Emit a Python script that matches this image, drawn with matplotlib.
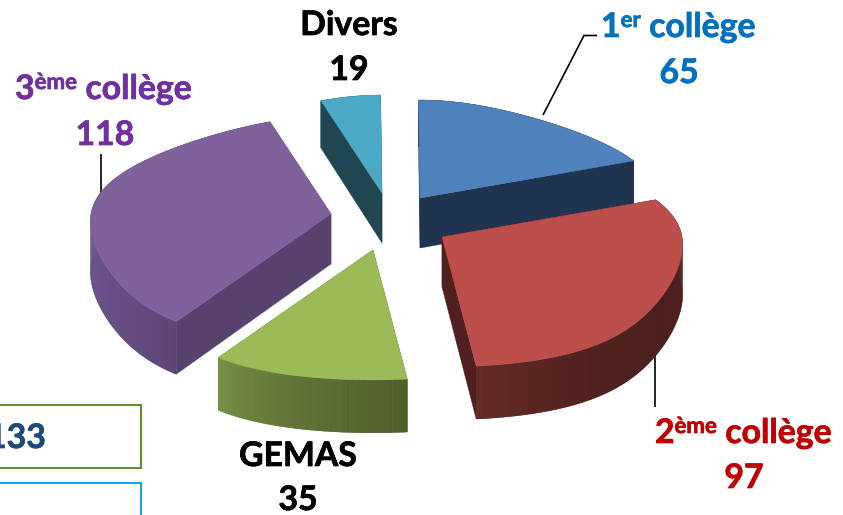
import numpy as np
import matplotlib
matplotlib.use("Agg")
import matplotlib.pyplot as plt
from matplotlib.patches import Polygon, Rectangle
from matplotlib.colors import to_rgb
import matplotlib.patheffects as pe

# data, in pie order (clockwise from the top)
categories = ["1er collège", "2ème collège", "GEMAS", "3ème collège", "Divers"]
values = [65, 97, 35, 118, 19]
box_value = "133"

# style
top_colors = ["#4F81BD", "#BC4F4C", "#9BBB59", "#7F619C", "#4BA9C5"]
wall_colors = ["#20344F", "#4F201F", "#4F5E2B", "#57426D", "#1F4651"]
arc_left_colors = ["#20344F", "#672C28", "#7C964A", "#6E5690", "#1F4651"]
arc_right_colors = ["#20344F", "#4C1F1E", "#4F5C2A", "#5C4675", "#1F4651"]
apexes = [(420, 198), (442, 237), (373, 250), (331, 214), (382, 193)]
draw_order = [0, 4, 3, 2, 1]
RX, RY, PY, DEPTH = 240.0, 111.7, 0.14, 50.0
START = -0.5


def project(t, ax_, ay_):
    s, c = np.sin(t), np.cos(t)
    k = 0.0785 * c + 0.098 * c ** 2 + 0.304 * c ** 3
    return ax_ + RX * s / (1 + k), ay_ - RY * c / (1 + PY * c)


def wall_depth(t):
    return DEPTH * (1 - 0.06 * np.cos(t))


fig = plt.figure(figsize=(8.43, 5.15), dpi=100)
ax = fig.add_axes([0, 0, 1, 1])
ax.set_xlim(0, 843)
ax.set_ylim(515, 0)
ax.axis("off")

# leader lines
lk = dict(color="black", lw=1.2, zorder=1, solid_capstyle="butt", solid_joinstyle="miter")
ax.plot([543, 584, 597], [115, 35.5, 35.5], **lk)
ax.plot([100.5, 100.5], [154, 200], **lk)
ax.plot([655, 655], [350, 407], **lk)

# slices
edges = np.radians(START + 360 * np.concatenate([[0], np.cumsum(values)]) / np.sum(values))
z = 2
for i in draw_order:
    t0, t1 = edges[i], edges[i + 1]
    a, b = apexes[i]
    ts = np.linspace(t0, t1, 90)
    xs, ys = project(ts, a, b)
    ds = wall_depth(ts)
    # radial walls
    for j in (-1, 0):
        quad = [(a, b), (xs[j], ys[j]), (xs[j], ys[j] + ds[j]), (a, b + DEPTH)]
        ax.add_patch(Polygon(quad, closed=True, fc=wall_colors[i], ec=wall_colors[i], lw=0.3, zorder=z))
    # outer wall: a solid base, then a left-to-right shading over it
    cl, cr = np.array(to_rgb(arc_left_colors[i])), np.array(to_rgb(arc_right_colors[i]))
    outline = np.column_stack([np.r_[xs, xs[::-1]], np.r_[ys, (ys + ds)[::-1]]])
    mean_col = (cl + cr) / 2
    ax.add_patch(Polygon(outline, closed=True, fc=mean_col, ec=mean_col, lw=0.2, zorder=z))
    span = max(xs[0] - xs.min(), 1.0)
    for k in range(len(ts) - 1):
        f = np.clip((0.5 * (xs[k] + xs[k + 1]) - xs.min()) / span, 0, 1) ** 0.6
        col = cl + (cr - cl) * f
        quad = [(xs[k], ys[k]), (xs[k + 1], ys[k + 1]),
                (xs[k + 1], ys[k + 1] + ds[k + 1]), (xs[k], ys[k] + ds[k])]
        ax.add_patch(Polygon(quad, closed=True, fc=col, ec="none", lw=0, zorder=z))
    # top face
    top = np.column_stack([np.r_[a, xs], np.r_[b, ys]])
    ax.add_patch(Polygon(top, closed=True, fc=top_colors[i], ec=top_colors[i], lw=0.3, zorder=z + 0.5))
    z += 1

# boxes
ax.add_patch(Rectangle((-5, 404.5), 146, 63.5, fc="white", ec="#649030", lw=1.5, zorder=20))
ax.add_patch(Rectangle((-5, 482.5), 146, 60, fc="white", ec="#18A8DC", lw=1.5, zorder=20))

FS = 24.3
SUP = 16
font = dict(family="Lato", weight="bold", zorder=30, va="baseline")


def heavy(t, color):
    t.set_path_effects([pe.withStroke(linewidth=0.5, foreground=color)])
    return t


def rich(x, y, parts, color):
    """Left aligned run of normal and raised text; the width of each part sets the next one."""
    r = fig.canvas.get_renderer()
    for s, sup in parts:
        t = heavy(ax.text(x, y - (10 if sup else 0), s, color=color, fontsize=SUP if sup else FS,
                          ha="left", **font), color)
        x += t.get_window_extent(r).width


def center(x, y, s, color):
    heavy(ax.text(x, y, s, color=color, fontsize=FS, ha="center", **font), color)


BLUE, RED, PURPLE = "#0070C0", "#C00000", "#7030A0"
rich(601, 37, [("1", False), ("er", True), (" collège", False)], BLUE)
center(679, 83, str(values[0]), BLUE)
rich(655, 443, [("2", False), ("ème", True), (" collège", False)], RED)
center(744, 488, str(values[1]), RED)
center(298, 466, categories[2], "black")
center(298, 510, str(values[2]), "black")
rich(15, 99, [("3", False), ("ème", True), (" collège", False)], PURPLE)
center(105, 145, str(values[3]), PURPLE)
center(349, 35, categories[4], "black")
center(349, 80, str(values[4]), "black")
heavy(ax.text(46, 448, box_value, color="#1F497D", fontsize=FS, ha="right", **font), "#1F497D")

fig.savefig("out.png", dpi=100)
